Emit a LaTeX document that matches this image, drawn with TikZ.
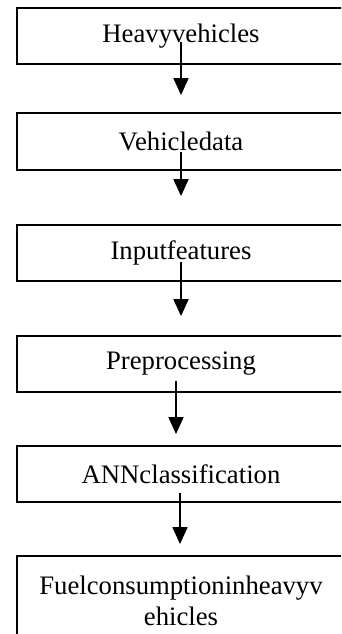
\documentclass[tikz,border=0pt]{standalone}
\usepackage{fontspec}
\setmainfont{Liberation Serif}
\usetikzlibrary{arrows.meta}
\begin{document}
\begin{tikzpicture}[x=1pt,y=-1pt,
  stagebox/.style={draw=black,line width=1.8pt,minimum width=328pt,inner sep=0pt,
    font=\fontsize{26.7}{30.5}\selectfont,align=center},
  arr/.style={line width=1.8pt,-{Triangle[width=15pt,length=17pt]}}]
\useasboundingbox (0,0) rectangle (341,634);
\clip (0,0) rectangle (341,634);
\node[stagebox,minimum height=56pt] (b1) at (181,36) {Heavyvehicles};
\node[stagebox,minimum height=57pt] (b2) at (181,141.5) {Vehicledata};
\node[stagebox,minimum height=56pt] (b3) at (181,253) {Inputfeatures};
\node[stagebox,minimum height=56pt] (b4) at (181,364) {Preprocessing};
\node[stagebox,minimum height=56pt] (b5) at (181,474) {ANNclassification};
\node[stagebox,minimum height=90pt] (b6) at (181,601) {Fuelconsumptioninheavyv\\ehicles};
\draw[arr] ([yshift=-6pt]b1.center) -- ([yshift=17pt]b2.north);
\draw[arr] ([yshift=-10.5pt]b2.center) -- ([yshift=28pt]b3.north);
\draw[arr] ([yshift=-9pt]b3.center) -- ([yshift=19pt]b4.north);
\draw[arr] ([xshift=-5pt,yshift=-17pt]b4.center) -- ([xshift=-5pt,yshift=11pt]b5.north);
\draw[arr] ([xshift=-1pt,yshift=-19pt]b5.center) -- ([xshift=-1pt,yshift=11pt]b6.north);
\end{tikzpicture}
\end{document}
